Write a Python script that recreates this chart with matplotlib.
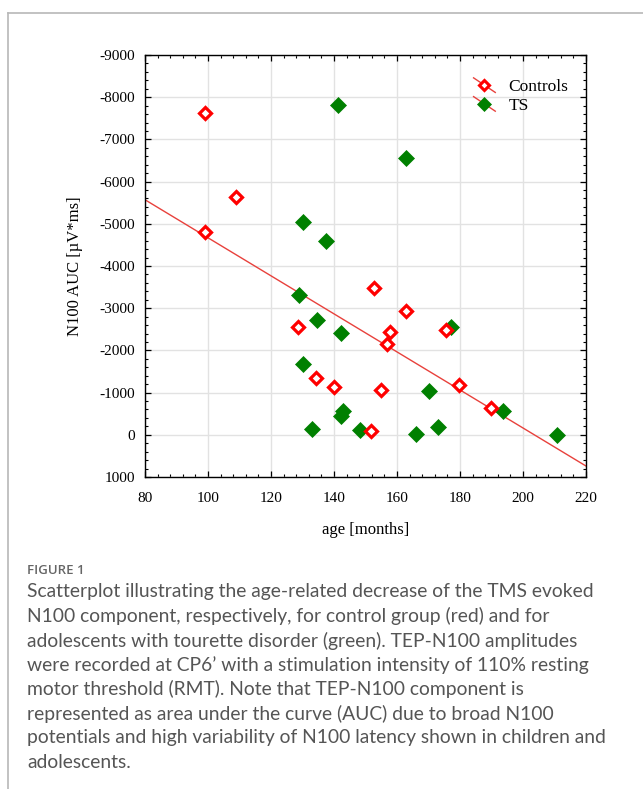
import matplotlib
matplotlib.use("Agg")
import matplotlib.pyplot as plt
from matplotlib.lines import Line2D
from matplotlib.legend_handler import HandlerBase
from matplotlib.ticker import MultipleLocator, AutoMinorLocator
import numpy as np

plt.rcParams['axes.unicode_minus'] = False
plt.rcParams['font.family'] = ['Liberation Serif', 'DejaVu Serif']

# ---------------- data ----------------
ctrl_age = [99.0, 99.0, 108.9, 128.6, 134.3, 140.0, 152.7, 154.9, 151.7,
            157.8, 156.8, 162.9, 175.6, 179.7, 189.8]
ctrl_auc = [-7626, -4806, -5635, -2555, -1346, -1133, -3479, -1062, -90,
            -2436, -2152, -2934, -2483, -1180, -635]

ts_age = [141.3, 162.9, 130.3, 137.4, 129.0, 134.5, 142.1, 177.0, 130.3,
          170.2, 143.0, 142.1, 133.1, 148.3, 166.0, 172.9, 193.8, 210.9]
ts_auc = [-7815, -6559, -5036, -4592, -3313, -2720, -2419, -2547, -1671,
          -1038, -564, -453, -137, -114, -19, -192, -564, 5]

fit_age = [80, 220]
fit_auc = [-5570, 740]

series_labels = ["Controls", "TS"]
x_label = "age [months]"
y_label = "N100 AUC [\u00b5V*ms]"

caption_title = "FIGURE 1"
caption_lines = [
    "Scatterplot illustrating the age-related decrease of the TMS evoked",
    "N100 component, respectively, for control group (red) and for",
    "adolescents with tourette disorder (green). TEP-N100 amplitudes",
    "were recorded at CP6\u2019 with a stimulation intensity of 110% resting",
    "motor threshold (RMT). Note that TEP-N100 component is",
    "represented as area under the curve (AUC) due to broad N100",
    "potentials and high variability of N100 latency shown in children and",
    "adolescents.",
]

# ---------------- figure ----------------
W, H = 643, 789
fig = plt.figure(figsize=(W / 100, H / 100), dpi=100)
fig.patch.set_facecolor("white")

# outer frame lines (top and left)
fig.add_artist(Line2D([7.5 / W, 1.0], [1 - 12.5 / H, 1 - 12.5 / H],
                      color="#b8b8b8", lw=1.2, transform=fig.transFigure))
fig.add_artist(Line2D([7.5 / W, 7.5 / W], [1 - 12.5 / H, 0],
                      color="#b8b8b8", lw=1.2, transform=fig.transFigure))

ax = fig.add_axes([145 / W, 1 - 477 / H, (586 - 145) / W, (477 - 55) / H])

red = "#ff0000"
green = "#008000"

ax.grid(True, color="#e2e2e2", lw=1.0, zorder=0)
ax.set_axisbelow(True)

ax.plot(fit_age, fit_auc, color="#e8413c", lw=1.0, zorder=2)
ax.plot(ctrl_age, ctrl_auc, ls="none", marker="D", ms=6.2, mfc="white",
        mec=red, mew=2.3, zorder=4)
ax.plot(ts_age, ts_auc, ls="none", marker="D", ms=8, mfc=green,
        mec=green, mew=0.5, zorder=3)

ax.set_xlim(80, 220)
ax.set_ylim(1000, -9000)
ax.xaxis.set_major_locator(MultipleLocator(20))
ax.xaxis.set_minor_locator(AutoMinorLocator(5))
ax.yaxis.set_major_locator(MultipleLocator(1000))
ax.yaxis.set_minor_locator(AutoMinorLocator(5))
ax.tick_params(which="both", direction="in", top=True, right=True,
               colors="black", labelsize=11)
ax.tick_params(which="major", length=4, width=0.9)
ax.tick_params(which="minor", length=2.5, width=0.8)
ax.tick_params(axis="y", pad=7)
ax.tick_params(axis="x", pad=11)
for s in ax.spines.values():
    s.set_linewidth(1.0)
    s.set_color("black")

ax.set_xlabel(x_label, fontsize=12, labelpad=12)
ax.set_ylabel(y_label, fontsize=12, labelpad=12)


class DiagHandler(HandlerBase):
    def __init__(self, mfc, mec, ms, mew):
        super().__init__()
        self.mfc, self.mec, self.ms, self.mew = mfc, mec, ms, mew

    def create_artists(self, legend, orig_handle, xdescent, ydescent,
                       width, height, fontsize, trans):
        ln = Line2D([-xdescent, -xdescent + width],
                    [-ydescent + height * 1.1, -ydescent - height * 0.1],
                    color="#e8413c", lw=1.0, transform=trans)
        mk = Line2D([-xdescent + width / 2], [-ydescent + height / 2],
                    ls="none", marker="D", ms=self.ms, mfc=self.mfc,
                    mec=self.mec, mew=self.mew, transform=trans)
        return [ln, mk]


h1 = Line2D([], [])
h2 = Line2D([], [])
leg = ax.legend([h1, h2], series_labels,
                handler_map={h1: DiagHandler("white", red, 5.5, 2.2),
                             h2: DiagHandler(green, green, 7, 0.5)},
                loc="upper right", bbox_to_anchor=(0.995, 0.98),
                frameon=False, prop={"size": 12.5},
                handlelength=1.25, handletextpad=0.75, labelspacing=0.15)

# ---------------- caption ----------------
fig.text(27 / W, 1 - 571 / H, caption_title, fontfamily="Open Sans",
         fontsize=9.5, fontweight="semibold", color="#666666", va="center")
y0 = 592
for i, line in enumerate(caption_lines):
    fig.text(27 / W, 1 - (y0 + i * 24.3) / H, line,
             fontfamily=["Lato", "DejaVu Sans"], fontweight="normal",
             fontsize=13.85, color="#555555", va="center")

fig.savefig("out.png", dpi=100)
